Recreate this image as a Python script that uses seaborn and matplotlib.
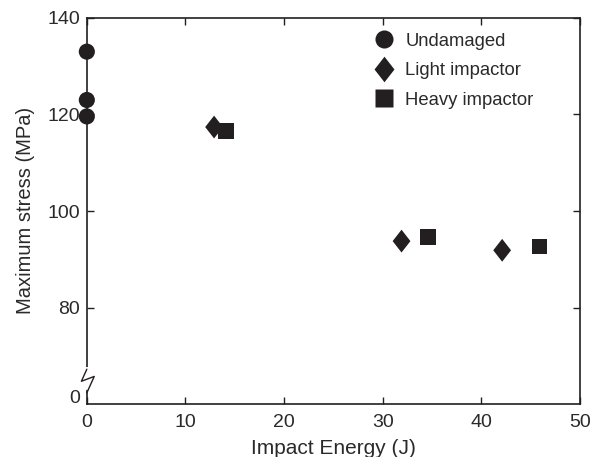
import matplotlib
matplotlib.use("Agg")
import matplotlib.pyplot as plt
import seaborn as sns
import pandas as pd

# Data
undamaged_x = [0, 0, 0]
undamaged_y = [133.0, 123.0, 119.6]
light_x = [12.9, 31.9, 42.1]
light_y = [117.4, 93.8, 91.9]
heavy_x = [14.1, 34.6, 45.9]
heavy_y = [116.6, 94.6, 92.7]
groups = ["Undamaged", "Light impactor", "Heavy impactor"]

x_ticks = [0, 10, 20, 30, 40, 50]
y_tick_labels = ["0", "80", "100", "120", "140"]

df = pd.DataFrame({
    "x": undamaged_x + light_x + heavy_x,
    "y": undamaged_y + light_y + heavy_y,
    "group": [groups[0]] * 3 + [groups[1]] * 3 + [groups[2]] * 3,
})

sns.set_style("ticks")
plt.rcParams["font.family"] = ["Liberation Sans", "DejaVu Sans"]
ink = "#231f20"
txt = "#2a2a2a"

fig = plt.figure(figsize=(6.03, 4.57), dpi=100)
ax = fig.add_axes([0.144, 0.116, 0.818, 0.845])

diamond = [(0, 1), (0.78, 0), (0, -1), (-0.78, 0), (0, 1)]
sns.scatterplot(data=df, x="x", y="y", hue="group", style="group", size="group",
                markers={"Undamaged": "o", "Light impactor": diamond, "Heavy impactor": "s"},
                sizes={"Undamaged": 135, "Light impactor": 270, "Heavy impactor": 125},
                palette={g: ink for g in groups},
                edgecolor="none", ax=ax, clip_on=False, zorder=3,
                hue_order=groups, style_order=groups, size_order=groups)

ax.set_xlim(0, 50)
# broken axis: the "0" label sits below the break
ylow = 60.1
zero_pos = 61.6
ax.set_ylim(ylow, 140)
ax.set_xticks(x_ticks)
ax.set_yticks([zero_pos, 80, 100, 120, 140])
ax.set_yticklabels(y_tick_labels)
ax.tick_params(direction="in", length=5, width=1, colors=ink, labelsize=14,
               top=True, right=True, labelcolor=txt, pad=5)
ax.tick_params(axis="x", pad=7)
ax.yaxis.get_major_ticks()[0].tick1line.set_visible(False)
ax.yaxis.get_major_ticks()[0].tick2line.set_visible(False)

for sp in ax.spines.values():
    sp.set_visible(True)
    sp.set_color(ink)
    sp.set_linewidth(1.2)

ax.set_xlabel("Impact Energy (J)", fontsize=15, color=txt, labelpad=6)
ax.set_ylabel("Maximum stress (MPa)", fontsize=14.5, color=txt, labelpad=9)

# axis break zigzag on left spine
ax.plot([0, 0], [63.5, 67.3], color="white", lw=3, transform=ax.transData,
        clip_on=False, zorder=4)
ax.plot([0, -0.55, 0.75, 0], [67.3, 64.8, 65.8, 62.4], color=ink, lw=1.0,
        transform=ax.transData, clip_on=False, zorder=5)

sns.move_legend(ax, "upper left", bbox_to_anchor=(0.535, 1.0), frameon=False,
                title=None, fontsize=13.3, labelspacing=0.68, handletextpad=0.15,
                markerscale=1.12, borderaxespad=0.4)
for t in ax.get_legend().get_texts():
    t.set_color(txt)

fig.savefig("out.png", dpi=100)
